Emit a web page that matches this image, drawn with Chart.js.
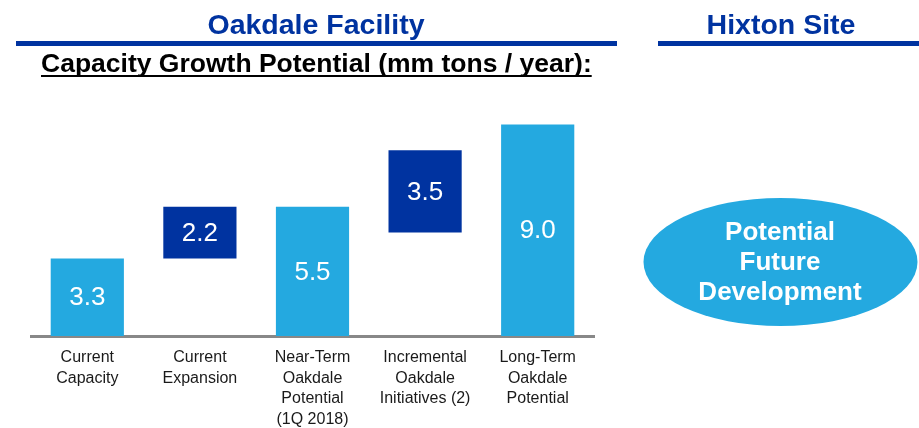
<!DOCTYPE html>
<html>
<head>
<meta charset="utf-8">
<script src="https://cdn.jsdelivr.net/npm/chart.js@4/dist/chart.umd.min.js"></script>
<style>
  html, body { margin: 0; padding: 0; background: #fff; }
  #wrap { position: relative; width: 919px; height: 428px; }
</style>
</head>
<body>
<div id="wrap"><canvas id="chart"></canvas></div>
<script>
  /* Oakdale capacity waterfall (mm tons / year) */
  var CATEGORIES = [
    ["Current", "Capacity"],
    ["Current", "Expansion"],
    ["Near-Term", "Oakdale", "Potential", "(1Q 2018)"],
    ["Incremental", "Oakdale", "Initiatives (2)"],
    ["Long-Term", "Oakdale", "Potential"]
  ];
  var BAR_LOW = [0, 3.3, 0, 4.4, 0];
  var BAR_HIGH = [3.3, 5.5, 5.5, 7.9, 9.0];
  var BAR_TEXT = ["3.3", "2.2", "5.5", "3.5", "9.0"];
  var IS_STEP = [false, true, false, true, false];

  var LIGHT = "#24A9E0", DARK = "#0033A0", FONT = "'Liberation Sans', Arial, sans-serif";

  var ranges = BAR_LOW.map(function (lo, i) { return [lo, BAR_HIGH[i]]; });
  var colors = IS_STEP.map(function (s) { return s ? DARK : LIGHT; });

  // headings, rules and the Hixton ellipse
  var decor = {
    id: "decor",
    beforeDraw: function (chart) {
      var c = chart.ctx;
      c.save();
      c.fillStyle = DARK;
      c.textAlign = "center";
      c.textBaseline = "alphabetic";
      c.font = "bold 28.5px " + FONT;
      c.fillText("Oakdale Facility", 316, 34);
      c.fillText("Hixton Site", 781, 34);
      c.fillRect(16, 41, 601, 5);
      c.fillRect(658, 41, 261, 5);

      c.fillStyle = "#000";
      c.textAlign = "left";
      c.font = "bold 26.5px " + FONT;
      var sub = "Capacity Growth Potential (mm tons / year):";
      c.fillText(sub, 41, 72);
      var w = c.measureText(sub).width;
      c.fillRect(41, 75, w, 2);

      c.fillStyle = LIGHT;
      c.beginPath();
      c.ellipse(780.5, 262, 137, 64, 0, 0, Math.PI * 2);
      c.fill();
      c.fillStyle = "#fff";
      c.textAlign = "center";
      c.textBaseline = "middle";
      c.font = "bold 26px " + FONT;
      ["Potential", "Future", "Development"].forEach(function (t, i) {
        c.fillText(t, 780, 233 + i * 30);
      });
      c.restore();
    }
  };

  // value text in the middle of each bar
  var barText = {
    id: "barText",
    afterDatasetsDraw: function (chart) {
      var c = chart.ctx;
      c.save();
      c.fillStyle = "#fff";
      c.textAlign = "center";
      c.textBaseline = "middle";
      c.font = "26px " + FONT;
      chart.getDatasetMeta(0).data.forEach(function (bar, i) {
        var p = bar.getProps(["x", "y", "base"], true);
        c.fillText(BAR_TEXT[i], p.x, (p.y + p.base) / 2 + 1);
      });
      c.restore();
    }
  };

  new Chart(document.getElementById("chart"), {
    type: "bar",
    data: {
      labels: CATEGORIES,
      datasets: [{
        data: ranges,
        backgroundColor: colors,
        borderWidth: 0,
        categoryPercentage: 1,
        barPercentage: 0.65
      }]
    },
    options: {
      responsive: true,
      maintainAspectRatio: false,
      animation: false,
      layout: { padding: { left: 31, right: 325, top: 101, bottom: 0 } },
      plugins: { legend: { display: false }, tooltip: { enabled: false } },
      scales: {
        x: {
          grid: { display: false, drawTicks: false },
          border: { display: true, color: "#888", width: 3 },
          ticks: {
            color: "#1a1a1a", padding: 11, maxRotation: 0, autoSkip: false,
            font: { family: FONT, size: 16, lineHeight: 1.3 }
          },
          afterFit: function (s) { s.height = 92; }
        },
        y: { display: false, min: 0, max: 10 }
      }
    },
    plugins: [decor, barText]
  });
</script>
</body>
</html>
